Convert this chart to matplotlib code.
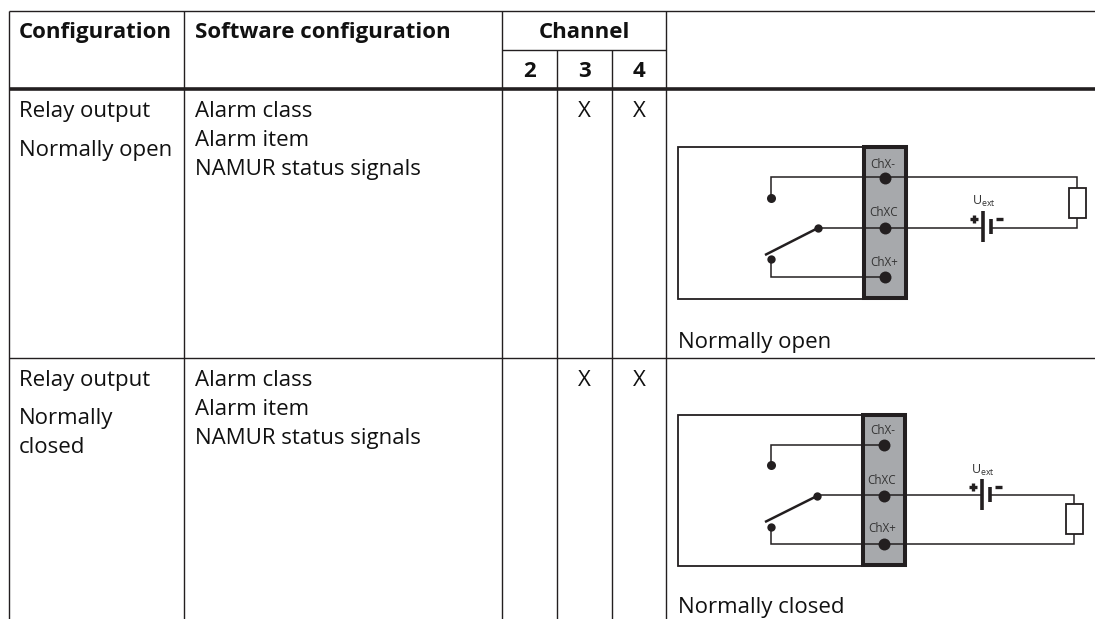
import matplotlib
matplotlib.use('Agg')
import matplotlib.pyplot as plt
from matplotlib.patches import Rectangle

plt.rcParams['font.family'] = ['Open Sans', 'DejaVu Sans']

# table grid, in pixels of the 1095x619 picture
col_x = [9, 184, 502, 557, 612, 666]
top_y = 11
sub_y = 50
head_y = 89
row_y = 358
bottom_y = 619
right_x = 1095

header1 = ['Configuration', 'Software configuration']
channel_title = 'Channel'
channels = ['2', '3', '4']
row1_config = ['Relay output', 'Normally open']
row2_config = ['Relay output', 'Normally', 'closed']
software = ['Alarm class', 'Alarm item', 'NAMUR status signals']
marks = ['', 'X', 'X']
captions = ['Normally open', 'Normally closed']
terminals = ['ChX-', 'ChXC', 'ChX+']

dark = '#231f20'
grey = '#a7a9ac'

fig = plt.figure(figsize=(10.95, 6.19), dpi=100)
ax = fig.add_axes([0, 0, 1, 1])
ax.set_xlim(0, 1095)
ax.set_ylim(619, 0)
ax.axis('off')


def line(xs, ys, lw=1.1):
    ax.plot(xs, ys, color=dark, lw=lw, solid_capstyle='butt', solid_joinstyle='miter', zorder=3)


def dot(x, y, s=6.5):
    ax.plot([x], [y], 'o', color=dark, ms=s, mew=0, zorder=4)


def text(x, y, s, size=16, weight='normal', ha='left'):
    ax.text(x, y, s, fontsize=size, fontweight=weight, ha=ha, va='baseline', color='#111111', zorder=5)


# grid
line([col_x[0], right_x], [top_y, top_y], 1.0)
line([col_x[2], col_x[5]], [sub_y, sub_y], 1.0)
line([col_x[0], right_x], [head_y, head_y], 2.6)
line([col_x[0], right_x], [row_y, row_y], 1.0)
line([col_x[0], col_x[0]], [top_y, bottom_y], 1.0)
for x in [col_x[1], col_x[2], col_x[5]]:
    line([x, x], [top_y, bottom_y], 1.0)
for x in col_x[3:5]:
    line([x, x], [sub_y, bottom_y], 1.0)

# header
text(19, 38, header1[0], weight='bold')
text(195, 38, header1[1], weight='bold')
text((col_x[2] + col_x[5]) / 2, 38, channel_title, weight='bold', ha='center')
for i, c in enumerate(channels):
    text((col_x[2 + i] + col_x[3 + i]) / 2, 77, c, weight='bold', ha='center')

# rows
for y0, cfg, steps in [(117, row1_config, [0, 39]), (386, row2_config, [0, 38, 67])]:
    for s, dy in zip(cfg, steps):
        text(19, y0 + dy, s)
    for i, s in enumerate(software):
        text(195, y0 + i * 29, s)
    for i, m in enumerate(marks):
        text((col_x[2 + i] + col_x[3 + i]) / 2, y0, m, ha='center')
text(678, 348, captions[0])
text(678, 613, captions[1])


def block(box, blk, ys, labels_y):
    # outer loop and terminal block
    line([blk[0], box[0], box[0], blk[0]], [box[1], box[1], box[2], box[2]], 1.3)
    ax.add_patch(Rectangle((blk[0] + 2, blk[2] + 2), blk[1] - blk[0] - 4, blk[3] - blk[2] - 4,
                           fc=grey, ec=dark, lw=2.9, zorder=2))
    for s, (x, y) in zip(terminals, labels_y):
        ax.text(x, y, s, fontsize=8.4, ha='center', va='center', color='#333333', zorder=5)
    for y in ys:
        dot(blk[0] + 22.5, y, 8.6)


def battery(x, y, up):
    line([x, x], [y - 16, y + 15], 2.6)
    line([x + 8, x + 8], [y - 8, y + 7], 2.6)
    line([x - 13, x - 5], [up, up], 2.4)
    line([x - 9, x - 9], [up - 4, up + 4], 2.4)
    line([x + 13, x + 20], [up, up], 2.4)


# first diagram
block((678, 147, 299), (862, 908, 145, 300), [178, 228, 277], [(883, 164), (884, 213), (884, 262)])
line([771, 771, 1077, 1077], [198, 177, 177, 188])
dot(771, 198, 6.5)
line([818, 983], [228, 228])
line([991, 1077, 1077], [228, 228, 218])
ax.add_patch(Rectangle((1069, 188), 17, 30, fc='white', ec=dark, lw=1.3, zorder=3))
battery(983, 227, 219)
ax.text(984, 201, 'U$_{\\mathregular{ext}}$', fontsize=9, ha='center', va='center', color='#333333')
line([765, 818], [255, 228], 1.8)
dot(818, 228, 6)
dot(771, 259, 6)
line([771, 771, 885], [259, 277, 277])

# second diagram
block((678, 415, 566), (861, 907, 413, 567), [445, 496, 544], [(883, 430), (882, 480), (882, 529)])
line([771, 771, 883], [465, 445, 445])
dot(771, 465, 6.5)
line([817, 982], [495, 495])
line([989, 1074, 1074], [495, 495, 504])
ax.add_patch(Rectangle((1066, 504), 17, 30, fc='white', ec=dark, lw=1.3, zorder=3))
line([1074, 1074, 771, 771], [534, 544, 544, 527])
battery(982, 495, 487)
ax.text(983, 470, 'U$_{\\mathregular{ext}}$', fontsize=9, ha='center', va='center', color='#333333')
line([765, 817], [522, 496], 1.8)
dot(817, 496, 6)
dot(771, 527, 6)

fig.savefig('out.png', dpi=100)
